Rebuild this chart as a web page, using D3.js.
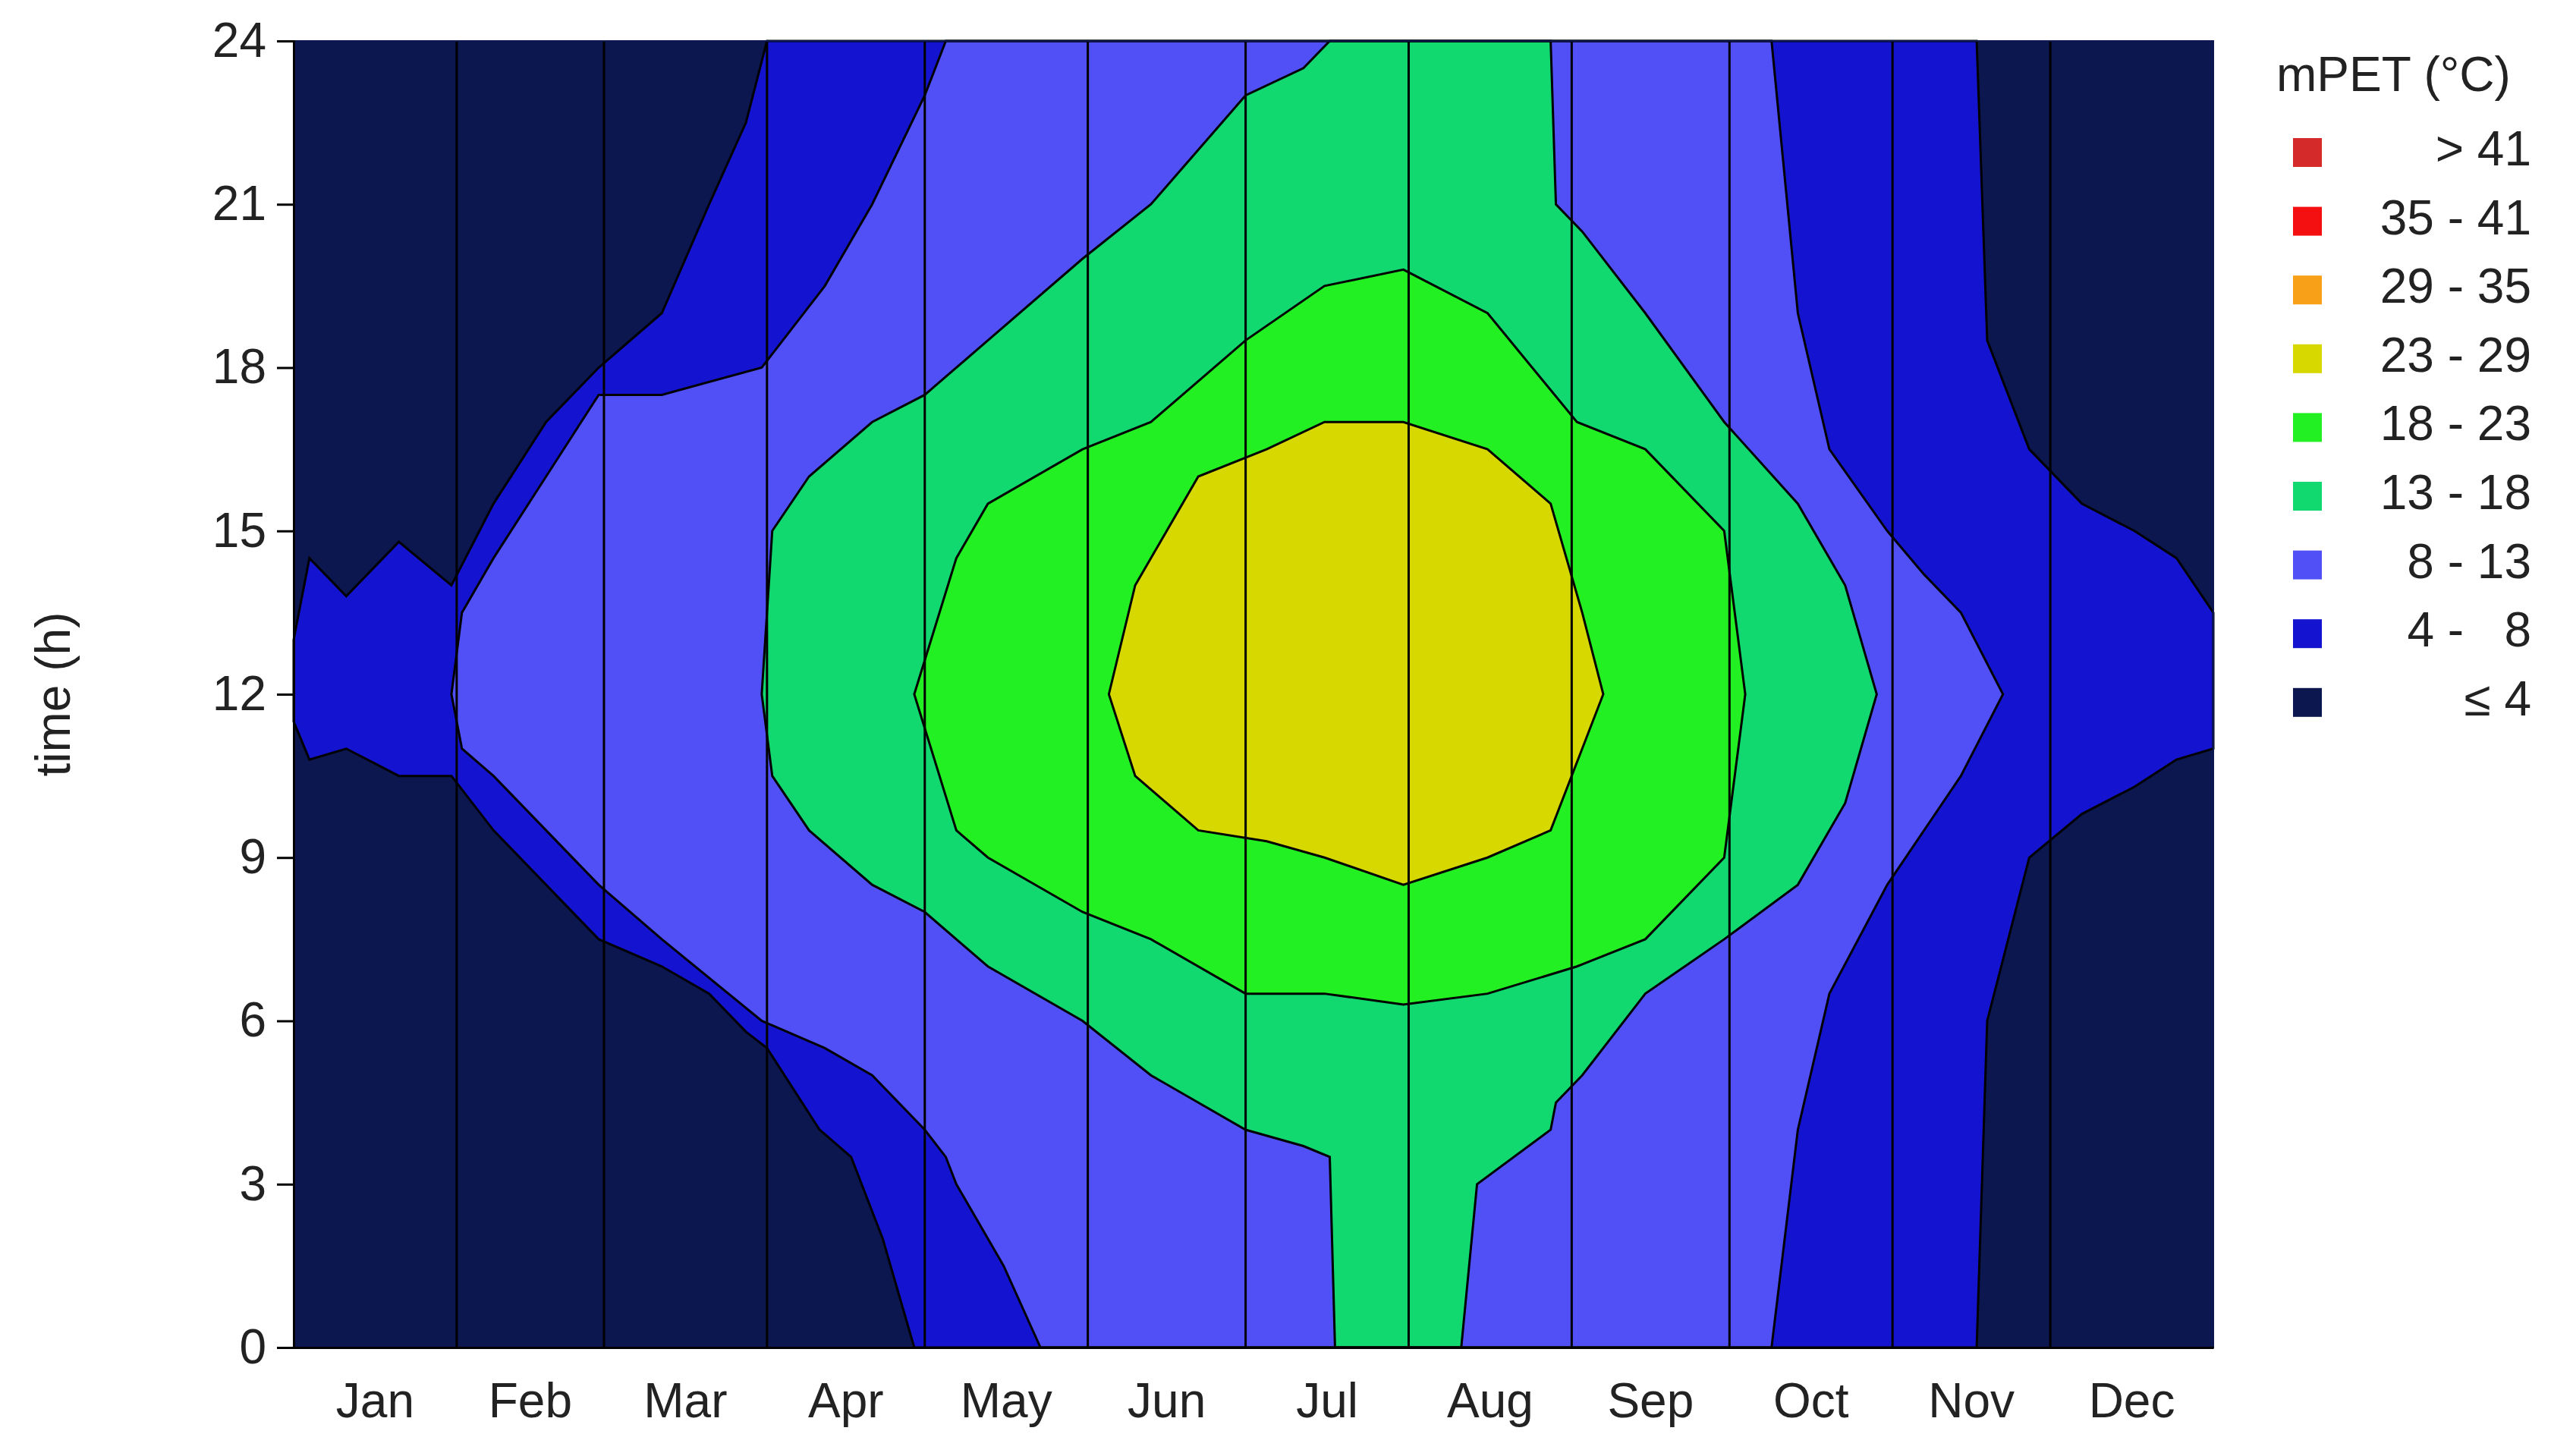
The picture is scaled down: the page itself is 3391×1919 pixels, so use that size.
<!DOCTYPE html>
<html><head><meta charset="utf-8">
<script src="https://cdn.jsdelivr.net/npm/d3@7"></script>
<style>body{margin:0;background:#fff}text{font-family:"Liberation Sans",Arial,sans-serif}</style>
</head><body><svg id="c" width="3391" height="1919"></svg>
<script>
const months=["Jan","Feb","Mar","Apr","May","Jun","Jul","Aug","Sep","Oct","Nov","Dec"];
const monthStarts=[0,31,59,90,120,151,181,212,243,273,304,334,365];
const hourTicks=[0,3,6,9,12,15,18,21,24];
const legendLabels=["> 41","35 - 41","29 - 35","23 - 29","18 - 23","13 - 18","8 - 13","4 -   8","≤ 4"];
const legendColors=["#d42a2a","#f41010","#f8a018","#d6d800","#22f022","#12d870","#5050f6","#1414d0","#0b174e"];
// boundaries [day, lowHour, highHour] of region above threshold
const above4=[[0,11.5,13],[3,10.8,14.5],[10,11,13.8],[20,10.5,14.8],[30,10.5,14],[38,9.5,15.5],[48,8.5,17],[58,7.5,18],[70,7,19],[79,6.5,21],[86,5.8,22.5],[90,5.5,24],[100,4,24],[106,3.5,24],[112,2,24],[118,0,24],[320,0,24],[322,6,18.5],[330,9,16.5],[340,9.8,15.5],[350,10.3,15],[358,10.8,14.5],[365,11,13.5]];
const above8=[[30,12,12],[32,11,13.5],[38,10.5,14.5],[48,9.5,16],[58,8.5,17.5],[70,7.5,17.5],[89,6,18],[101,5.5,19.5],[110,5,21],[120,4,23],[124,3.5,24],[126,3,24],[135,1.5,24],[142,0,24],[281,0,24],[286,4,19],[292,6.5,16.5],[303,8.5,15],[310,9.5,14.2],[317,10.5,13.5],[325,12,12]];
const above13=[[89,12,12],[91,10.5,15],[98,9.5,16],[110,8.5,17],[120,8,17.5],[132,7,18.5],[150,6,20],[163,5,21],[181,4,23],[192,3.7,23.5],[197,3.5,24],[198,0,24],[222,0,24],[225,3,24],[239,4,24],[240,4.5,21],[245,5,20.5],[257,6.5,19],[272,7.5,17],[286,8.5,15.5],[295,10,14],[301,12,12]];
const above18=[[118,12,12],[126,9.5,14.5],[132,9,15.5],[150,8,16.5],[163,7.5,17],[181,6.5,18.5],[196,6.5,19.5],[211,6.3,19.8],[227,6.5,19],[244,7,17],[257,7.5,16.5],[272,9,15],[276,12,12]];
const above23=[[155,12,12],[160,10.5,14],[172,9.5,16],[185,9.3,16.5],[196,9,17],[211,8.5,17],[227,9,16.5],[239,9.5,15.5],[245,11,13.5],[249,12,12]];
const layers=[[above4,"#1414d0"],[above8,"#5050f6"],[above13,"#12d870"],[above18,"#22f022"],[above23,"#d6d800"]];

const svg=d3.select("#c");
const L=387,R=2917,T=54,B=1776;
const x=d3.scaleLinear().domain([0,365]).range([L,R]);
const y=d3.scaleLinear().domain([0,24]).range([B,T]);
svg.append("rect").attr("x",L).attr("y",T).attr("width",R-L).attr("height",B-T).attr("fill","#0b174e");
const area=d3.area().x(d=>x(d[0])).y0(d=>y(d[1])).y1(d=>y(d[2])).curve(d3.curveLinear);
layers.forEach(([data,col])=>{
  svg.append("path").attr("d",area(data)).attr("fill",col);
});
layers.forEach(([data])=>{
  svg.append("path").attr("d",area(data)).attr("fill","none").attr("stroke","#000").attr("stroke-width",3);
});
svg.append("g").selectAll("line").data(monthStarts.slice(1,12)).join("line")
  .attr("x1",d=>x(d)).attr("x2",d=>x(d)).attr("y1",T).attr("y2",B).attr("stroke","#000").attr("stroke-width",3);
svg.append("rect").attr("x",L).attr("y",T).attr("width",R-L).attr("height",B-T).attr("fill","none").attr("stroke","#0b174e").attr("stroke-width",2);
const ya=svg.append("g").attr("transform",`translate(${L},0)`).call(d3.axisLeft(y).tickValues(hourTicks).tickSize(22).tickPadding(14));
ya.select(".domain").attr("stroke","#000").attr("stroke-width",3);
ya.selectAll(".tick line").attr("stroke-width",3);
ya.selectAll("text").attr("font-size",64).attr("fill","#222").style("font-family","Liberation Sans,Arial");
const xa=svg.append("g").attr("transform",`translate(0,${B})`).call(d3.axisBottom(x).tickValues([]).tickSizeOuter(0));
xa.select(".domain").attr("stroke","#000").attr("stroke-width",3);
svg.selectAll(".ml").data(months).join("text").attr("x",(d,i)=>x((monthStarts[i]+monthStarts[i+1])/2)).attr("y",1868)
  .attr("text-anchor","middle").attr("font-size",64).attr("fill","#222").text(d=>d);
svg.append("text").attr("transform","translate(92,915) rotate(-90)").attr("text-anchor","middle").attr("font-size",64).attr("fill","#222").text("time (h)");
svg.append("text").attr("x",3000).attr("y",120).attr("font-size",64).attr("fill","#222").text("mPET (°C)");
legendLabels.forEach((t,i)=>{
  const yy=218+i*90.6;
  svg.append("rect").attr("x",3022).attr("y",yy-36).attr("width",38).attr("height",38).attr("fill",legendColors[i]);
  svg.append("text").attr("x",3336).attr("y",yy).attr("text-anchor","end").attr("font-size",64).attr("fill","#222").attr("xml:space","preserve").style("white-space","pre").text(t);
});
</script></body></html>
